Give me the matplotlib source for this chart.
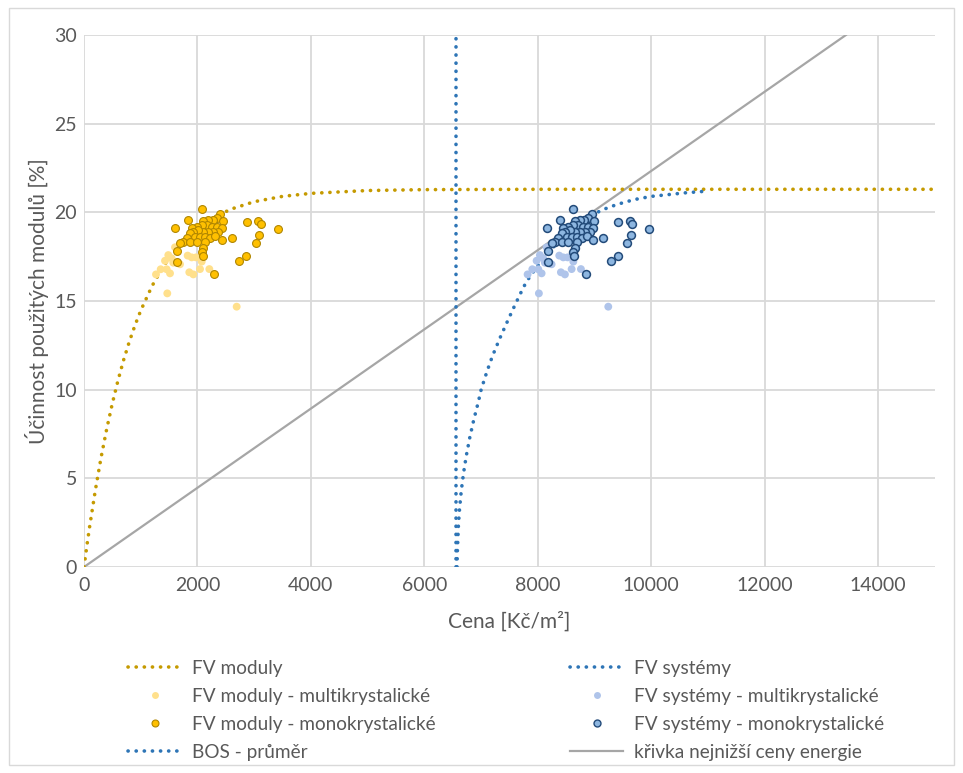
import matplotlib
matplotlib.use("Agg")
import matplotlib.pyplot as plt
from matplotlib.lines import Line2D
from matplotlib.patches import Rectangle

plt.rcParams['font.family'] = ['Lato', 'DejaVu Sans']

# ---- data ----
mod_curve_x = [0, 50, 100, 200, 300, 400, 500, 600, 700, 800, 900, 1000, 1200, 1400, 1600,
               1800, 2000, 2300, 2600, 3000, 3500, 4000, 5000, 6000, 8000, 10000, 12000, 15000]
mod_curve_y = [0, 1.18, 2.29, 4.33, 6.16, 7.78, 9.23, 10.53, 11.69, 12.72, 13.64, 14.46, 15.85,
               16.96, 17.84, 18.55, 19.11, 19.74, 20.19, 20.6, 20.9, 21.07, 21.23, 21.28, 21.3,
               21.3, 21.3, 21.3]

sys_curve_x = [6575, 6580, 6590, 6600, 6620, 6650, 6690, 6740, 6800, 6870, 6950, 7000, 7100, 7200,
               7330, 7480, 7600, 7720, 7800, 8000, 8200, 8400, 8600, 8800, 9100, 9400, 9700,
               10000, 10300, 10600, 11000]
sys_curve_y = [0, 0.8, 1.6, 2.4, 3.3, 4.3, 5.3, 6.3, 7.3, 8.3, 9.3, 10.0, 11.0, 11.9, 12.9, 13.97,
               14.8, 15.6, 16.1, 17.0, 17.8, 18.45, 18.95, 19.4, 20.1, 20.45, 20.72, 20.9, 21.0,
               21.1, 21.2]

mod_multi_x = [1604, 1486, 1428, 1574, 1692, 1352, 1457, 1269, 1516, 1827, 1898, 1974, 2075, 2045,
               2209, 1856, 1927, 1468, 2691, 1545]
mod_multi_y = [18.03, 17.59, 17.27, 17.16, 17.07, 16.79, 16.79, 16.50, 16.56, 17.56, 17.46, 17.46,
               17.22, 16.80, 16.80, 16.62, 16.50, 15.43, 14.68, 17.41]

mod_mono_x = [2075, 1839, 1604, 2397, 2339, 2268, 2191, 2103, 2445, 2162, 2075, 1986, 1898, 2250,
              2339, 2427, 2368, 2280, 2191, 2103, 2015, 1927, 1869, 1957, 2045, 2133, 2221, 2309,
              2427, 1810, 1751, 1869, 1986, 2133, 1692, 2103, 2075, 2092, 1634, 1634, 2866, 3073,
              3114, 3413, 3090, 3025, 2856, 2738, 2292, 2603]
mod_mono_y = [20.17, 19.57, 19.10, 19.89, 19.70, 19.57, 19.57, 19.51, 19.51, 19.29, 19.29, 19.19,
              19.10, 19.19, 19.19, 19.13, 18.91, 18.91, 18.91, 18.87, 19.00, 18.91, 18.82, 18.63,
              18.63, 18.63, 18.57, 18.68, 18.44, 18.54, 18.35, 18.35, 18.35, 18.35, 18.29, 18.01,
              17.78, 17.54, 17.82, 17.22, 19.47, 19.53, 19.32, 19.04, 18.74, 18.29, 17.56, 17.26,
              16.50, 18.55]

sys_multi_x = [8154, 8036, 7978, 8124, 8242, 7902, 8007, 7819, 8066, 8377, 8448, 8524, 8625, 8595,
               8759, 8406, 8477, 8018, 9241, 8095]
sys_multi_y = [18.03, 17.59, 17.27, 17.16, 17.07, 16.79, 16.79, 16.50, 16.56, 17.56, 17.46, 17.46,
               17.22, 16.80, 16.80, 16.62, 16.50, 15.43, 14.68, 17.41]

sys_mono_x = [8625, 8389, 8154, 8947, 8889, 8818, 8741, 8653, 8995, 8712, 8625, 8536, 8448, 8800,
              8889, 8977, 8918, 8830, 8741, 8653, 8565, 8477, 8419, 8507, 8595, 8683, 8771, 8859,
              8977, 8360, 8301, 8419, 8536, 8683, 8242, 8653, 8625, 8642, 8184, 8184, 9416, 9623,
              9664, 9963, 9640, 9575, 9406, 9288, 8842, 9153]
sys_mono_y = [20.17, 19.57, 19.10, 19.89, 19.70, 19.57, 19.57, 19.51, 19.51, 19.29, 19.29, 19.19,
              19.10, 19.19, 19.19, 19.13, 18.91, 18.91, 18.91, 18.87, 19.00, 18.91, 18.82, 18.63,
              18.63, 18.63, 18.57, 18.68, 18.44, 18.54, 18.35, 18.35, 18.35, 18.35, 18.29, 18.01,
              17.78, 17.54, 17.82, 17.22, 19.47, 19.53, 19.32, 19.04, 18.74, 18.29, 17.56, 17.26,
              16.50, 18.55]

bos_x = [6560, 6560]
bos_y = [0, 30]

lce_x = [0, 13430]
lce_y = [0, 30]

x_ticks = [0, 2000, 4000, 6000, 8000, 10000, 12000, 14000]
y_ticks = [0, 5, 10, 15, 20, 25, 30]

labels = ["FV moduly", "FV moduly - multikrystalické", "FV moduly - monokrystalické", "BOS - průměr",
          "FV systémy", "FV systémy - multikrystalické", "FV systémy - monokrystalické",
          "křivka nejnižší ceny energie"]

# ---- colours ----
c_gold = "#C59A00"
c_mono = "#FFC000"
c_mono_edge = "#B08600"
c_multi = "#FFE08C"
c_blue = "#2E75B6"
c_smulti = "#AFC4EA"
c_smono = "#8DB6E0"
c_smono_edge = "#234B7A"
c_grey = "#A6A6A6"
c_text = "#595959"

W, H = 963, 773
fig = plt.figure(figsize=(W / 100, H / 100), dpi=100)
ax = fig.add_axes([84 / W, 1 - 567 / H, (935 - 84) / W, (567 - 35) / H])

dot = (0, (0.05, 2.2))
ax.plot(lce_x, lce_y, color=c_grey, lw=1.6, zorder=2)
ax.plot(mod_curve_x, mod_curve_y, color=c_gold, lw=2.6, linestyle=dot,
        dash_capstyle='round', zorder=3)
ax.plot(sys_curve_x, sys_curve_y, color=c_blue, lw=2.6, linestyle=dot,
        dash_capstyle='round', zorder=3)
ax.plot(bos_x, bos_y, color=c_blue, lw=2.6, linestyle=dot,
        dash_capstyle='round', zorder=3)

ax.scatter(mod_multi_x, mod_multi_y, s=32, color=c_multi, edgecolors='none', zorder=4)
ax.scatter(mod_mono_x, mod_mono_y, s=32, color=c_mono, edgecolors=c_mono_edge,
           linewidths=0.8, zorder=5)
ax.scatter(sys_multi_x, sys_multi_y, s=32, color=c_smulti, edgecolors='none', zorder=4)
ax.scatter(sys_mono_x, sys_mono_y, s=32, color=c_smono, edgecolors=c_smono_edge,
           linewidths=1.1, zorder=5)

ax.set_xlim(0, 15000)
ax.set_ylim(0, 30)
ax.set_xticks(x_ticks)
ax.set_yticks(y_ticks)
ax.grid(True, color="#D9D9D9", lw=1.3, zorder=0)
ax.set_axisbelow(True)
for sp in ax.spines.values():
    sp.set_visible(False)
ax.tick_params(length=0, labelsize=14, colors=c_text)
ax.tick_params(axis='y', pad=5)
ax.tick_params(axis='x', pad=7)
ax.set_xlabel("Cena [Kč/m²]", fontsize=15, color=c_text, labelpad=13)
ax.set_ylabel("Účinnost použitých modulů [%]", fontsize=15, color=c_text, labelpad=4)

fig.patches.append(Rectangle((9 / W, 8 / H), (W - 18) / W, (H - 16) / H, transform=fig.transFigure,
                             fill=False, edgecolor="#D9D9D9", lw=1.0))

def mk(color, edge=None, ew=0):
    return Line2D([], [], linestyle='none', marker='o', markersize=5, markerfacecolor=color,
                  markeredgecolor=edge if edge else color, markeredgewidth=ew)

h_left = [Line2D([], [], color=c_gold, lw=2.6, linestyle=dot, dash_capstyle='round'),
          mk(c_multi), mk(c_mono, c_mono_edge, 0.8),
          Line2D([], [], color=c_blue, lw=2.6, linestyle=dot, dash_capstyle='round')]
h_right = [Line2D([], [], color=c_blue, lw=2.6, linestyle=dot, dash_capstyle='round'),
           mk(c_smulti), mk(c_smono, c_smono_edge, 1.0),
           Line2D([], [], color=c_grey, lw=1.6)]

common = dict(loc='upper left', frameon=False, fontsize=13.7, handlelength=2.8,
              handletextpad=0.55, labelspacing=0.57, labelcolor=c_text, borderaxespad=0,
              borderpad=0)
fig.legend(h_left, labels[:4], bbox_to_anchor=(128 / W, 1 - 660 / H), **common)
fig.legend(h_right, labels[4:], bbox_to_anchor=(570 / W, 1 - 660 / H), **common)

fig.savefig("out.png", dpi=100)
